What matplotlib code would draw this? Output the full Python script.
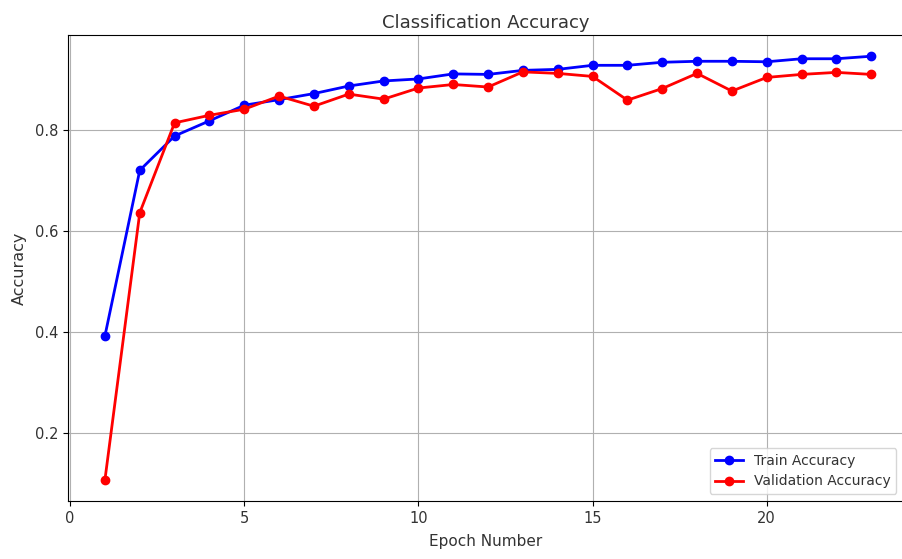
import matplotlib
matplotlib.use('Agg')
import matplotlib.pyplot as plt

# accuracy per epoch
epochs = list(range(1, 24))
train_acc = [0.393, 0.721, 0.789, 0.819, 0.850, 0.861, 0.873, 0.888, 0.898, 0.902,
             0.912, 0.911, 0.919, 0.921, 0.929, 0.929, 0.935, 0.937, 0.937, 0.936,
             0.942, 0.942, 0.947]
val_acc = [0.108, 0.637, 0.815, 0.830, 0.842, 0.868, 0.848, 0.872, 0.862, 0.884,
           0.891, 0.886, 0.916, 0.913, 0.907, 0.860, 0.883, 0.913, 0.878, 0.905,
           0.911, 0.915, 0.911]

fig = plt.figure(figsize=(9.02, 5.59), dpi=100)
ax = fig.add_axes([0.0754, 0.1038, 0.926, 0.8335])

ax.plot(epochs, train_acc, color='blue', marker='o', markersize=6, linewidth=2,
        label='Train Accuracy')
ax.plot(epochs, val_acc, color='red', marker='o', markersize=6, linewidth=2,
        label='Validation Accuracy')

ax.set_xlim(-0.06, 23.92)
ax.set_title('Classification Accuracy', fontsize=13, color='#333333', pad=5)
ax.set_xlabel('Epoch Number', fontsize=11, color='#333333', labelpad=6)
ax.set_ylabel('Accuracy', fontsize=11.5, color='#333333', labelpad=6)
ax.tick_params(labelsize=10.5, labelcolor='#333333')
ax.grid(True)
leg = ax.legend(loc='lower right', fontsize=10)
for t in leg.get_texts():
    t.set_color('#333333')

fig.savefig('out.png', dpi=100)
